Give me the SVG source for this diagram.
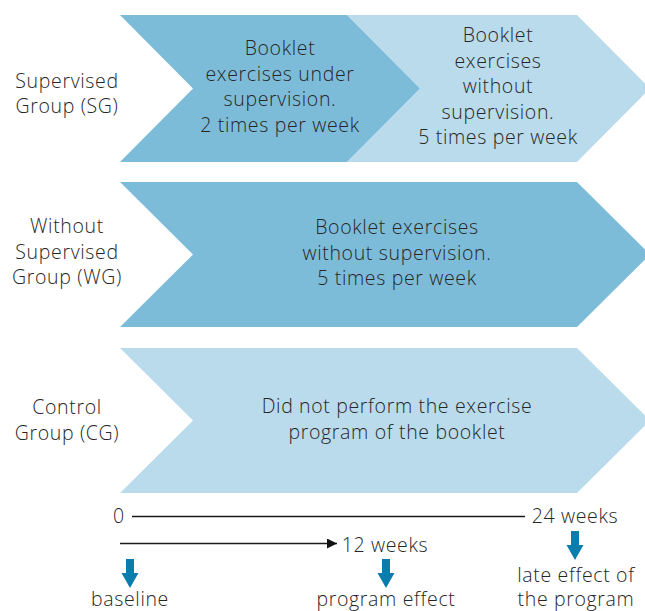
<svg xmlns="http://www.w3.org/2000/svg" width="645" height="611" viewBox="0 0 645 611">
<defs>
<style>
text{font-family:"Open Sans","Liberation Sans",sans-serif;font-size:19.5px;font-weight:300;letter-spacing:0.65px;fill:#262626;text-anchor:middle}
.dark{fill:#7dbcd9}
.light{fill:#badbeb}
.axis{stroke:#1a1a1a;stroke-width:1.3;fill:none}
.blue{fill:#0b7dac}
</style>
<marker id="tri" viewBox="0 0 10 10" refX="10" refY="5" markerWidth="10" markerHeight="10" markerUnits="userSpaceOnUse" orient="auto"><path d="M0,0 L10,5 L0,10 Z" fill="#111"/></marker>
<path id="barrow" d="M-4,0 H4 V14 H8.5 L0,29 L-8.5,14 H-4 Z"/>
</defs>
<g id="labels">
<text x="67" y="88">Supervised</text>
<text x="67" y="113">Group (SG)</text>
<text x="67" y="233">Without</text>
<text x="67" y="259">Supervised</text>
<text x="67" y="284">Group (WG)</text>
<text x="67" y="414">Control</text>
<text x="67" y="440">Group (CG)</text>
</g>
<g id="sg-unsupervised">
<polygon class="light" points="347,15 577,15 650,88.5 577,162 347,162 420,88.5"/>
<text x="498" y="42">Booklet</text>
<text x="498" y="68">exercises</text>
<text x="498" y="93">without</text>
<text x="498" y="119">supervision.</text>
<text x="498" y="144">5 times per week</text>
</g>
<g id="sg-supervised">
<polygon class="dark" points="120,15 347,15 420,88.5 347,162 120,162 193,88.5"/>
<text x="280" y="55">Booklet</text>
<text x="280" y="81">exercises under</text>
<text x="280" y="106">supervision.</text>
<text x="280" y="132">2 times per week</text>
</g>
<g id="wg">
<polygon class="dark" points="120,182 577,182 650,254.5 577,327 120,327 193,254.5"/>
<text x="397" y="234">Booklet exercises</text>
<text x="397" y="260">without supervision.</text>
<text x="397" y="285">5 times per week</text>
</g>
<g id="cg">
<polygon class="light" points="120,348 577,348 650,420.5 577,493 120,493 193,420.5"/>
<text x="397" y="413">Did not perform the exercise</text>
<text x="397" y="439">program of the booklet</text>
</g>
<g id="timeline">
<text x="119" y="523">0</text>
<line class="axis" x1="132" y1="516.5" x2="525" y2="516.5"/>
<text x="575" y="523">24 weeks</text>
<line class="axis" x1="120" y1="543.5" x2="337" y2="543.5" marker-end="url(#tri)"/>
<text x="385" y="552">12 weeks</text>
</g>
<g id="connectors">
<use href="#barrow" class="blue" x="130" y="559"/>
<use href="#barrow" class="blue" x="386" y="559"/>
<use href="#barrow" class="blue" x="575" y="531"/>
</g>
<g id="outcomes">
<text x="130" y="606">baseline</text>
<text x="386" y="606">program effect</text>
<text x="576" y="582">late effect of</text>
<text x="576" y="606">the program</text>
</g>
</svg>
